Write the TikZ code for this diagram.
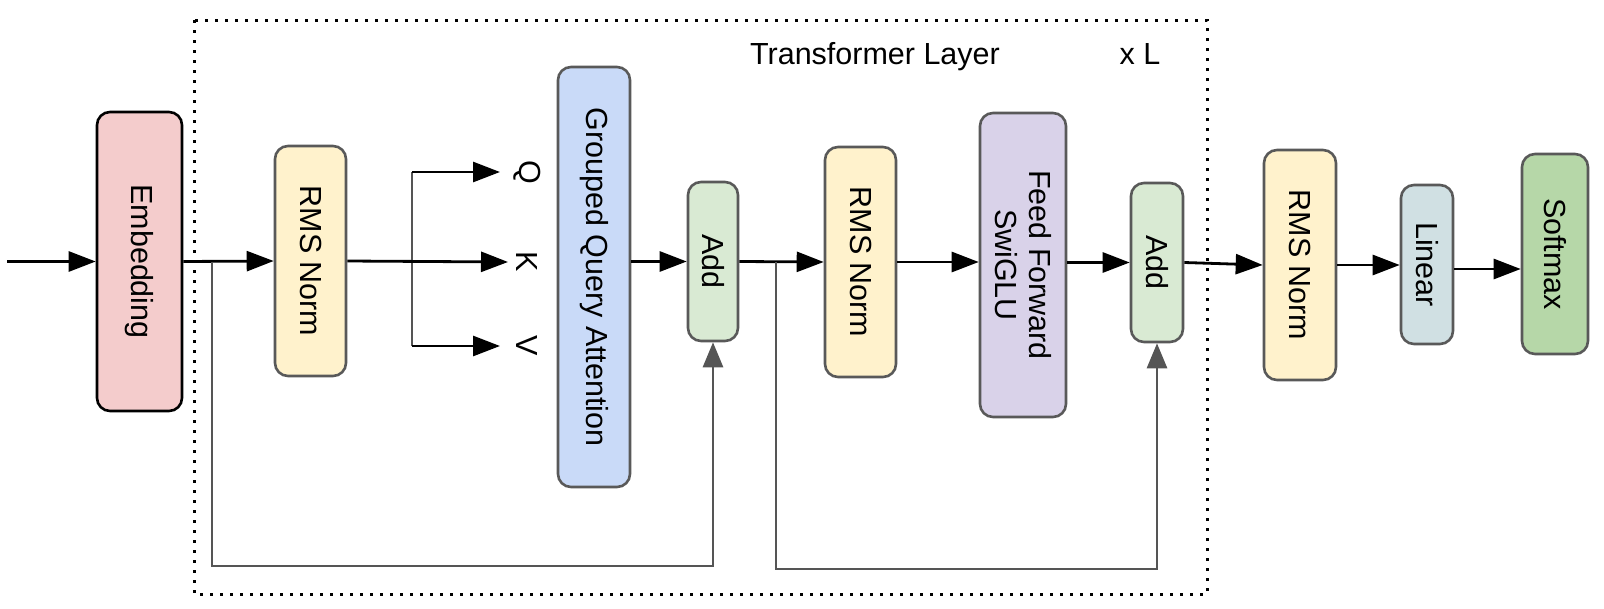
\documentclass[tikz,border=0pt]{standalone}
\usepackage{fontspec}
\setmainfont{Liberation Sans}
\usetikzlibrary{arrows.meta}
\definecolor{embc}{HTML}{F4CCCC}
\definecolor{rmsc}{HTML}{FFF2CC}
\definecolor{gqac}{HTML}{C9DAF8}
\definecolor{addc}{HTML}{D9EAD3}
\definecolor{ffc}{HTML}{D9D2E9}
\definecolor{linc}{HTML}{D0E0E3}
\definecolor{softc}{HTML}{B6D7A8}
\definecolor{bordc}{HTML}{595959}
\definecolor{skipc}{HTML}{555555}
\begin{document}
\begin{tikzpicture}[x=1pt,y=-1pt,
  blk/.style={draw=bordc, line width=2.6pt, rounded corners=13pt, inner sep=0pt},
  txt/.style={font=\fontsize{30.5pt}{34pt}\selectfont, inner sep=0pt, text=black},
  vtxt/.style={txt, rotate=-90},
  arr/.style={draw=black, line width=2.8pt, -{Triangle[length=27pt,width=20pt]}},
  skiparr/.style={draw=skipc, line width=2.8pt, -{Triangle[length=25pt,width=20pt]}},
  brk/.style={draw=skipc, line width=2.6pt}]
\useasboundingbox (0,0) rectangle (1604,608);
% dotted frame
\draw[line width=3pt, dash pattern=on 3pt off 7pt] (194,20) rectangle (1207,594);
\node[txt, anchor=base] (tl) at (875,64) {Transformer Layer};
\node[txt, anchor=base] (xl) at (1140,64) {x L};
% boxes
\node[blk, draw=black, fill=embc, minimum width=85pt, minimum height=299pt] (emb) at (139.5,261.5) {};
\node[vtxt] (embT) at (emb) {Embedding};
\node[blk, fill=rmsc, minimum width=71pt, minimum height=230pt] (rms1) at (310.5,261) {};
\node[vtxt] (rms1T) at (rms1) {RMS Norm};
\node[blk, fill=gqac, minimum width=72pt, minimum height=420pt] (gqa) at (594,277) {};
\node[vtxt] (gqaT) at (gqa) {Grouped Query Attention};
\node[blk, fill=addc, minimum width=50pt, minimum height=159pt] (add1) at (713,261.5) {};
\node[vtxt] (add1T) at (add1) {Add};
\node[blk, fill=rmsc, minimum width=71pt, minimum height=230pt] (rms2) at (860.5,262) {};
\node[vtxt] (rms2T) at (rms2) {RMS Norm};
\node[blk, fill=ffc, minimum width=86pt, minimum height=304pt] (ff) at (1023,265) {};
\node[vtxt, align=center] (ffT) at (ff) {Feed Forward\\SwiGLU};
\node[blk, fill=addc, minimum width=52pt, minimum height=159pt] (add2) at (1157,262.5) {};
\node[vtxt] (add2T) at (add2) {Add};
\node[blk, fill=rmsc, minimum width=72pt, minimum height=230pt] (rms3) at (1300,265) {};
\node[vtxt] (rms3T) at (rms3) {RMS Norm};
\node[blk, fill=linc, minimum width=52pt, minimum height=159pt] (lin) at (1427,264.5) {};
\node[vtxt] (linT) at (lin) {Linear};
\node[blk, fill=softc, minimum width=66pt, minimum height=200pt] (soft) at (1555,254) {};
\node[vtxt] (softT) at (soft) {Softmax};
% Q K V labels
\node[vtxt] (qL) at (527,172) {Q};
\node[vtxt] (kL) at (527,262) {K};
\node[vtxt] (vL) at (527,346) {V};
% coordinates
\coordinate (in) at (7,261.5);
\coordinate (qb) at (412,172);
\coordinate (vb) at (412,346);
\coordinate (qt) at (500,172);
\coordinate (kt) at (508,262);
\coordinate (vt) at (500,346);
\coordinate (s1) at (212,261.5);
\coordinate (s2) at (776,262);
% connectors
\draw[arr] (in) -- (emb.west);
\draw[arr] (emb.east) -- (rms1.west);
\draw[brk] (qb) -- (vb);
\draw[arr] (rms1.east) -- (kt);
\draw[arr] (qb) -- (qt);
\draw[arr] (vb) -- (vt);
\draw[arr] (gqa.east |- add1.west) -- (add1.west);
\draw[arr] (add1.east) -- (rms2.west);
\draw[arr] (rms2.east) -- (ff.west |- rms2.east);
\draw[arr] (ff.east |- add2.west) -- (add2.west);
\draw[arr] (add2.east) -- (rms3.west);
\draw[arr] (rms3.east) -- (lin.west |- rms3.east);
\draw[arr] (lin.east |- 0,269) -- (soft.west |- 0,269);
% skip connections
\draw[skiparr] (s1) |- (add1.south |- 0,566) -- (add1.south);
\draw[skiparr] (s2) |- (add2.south |- 0,569) -- (add2.south);
\end{tikzpicture}
\end{document}
